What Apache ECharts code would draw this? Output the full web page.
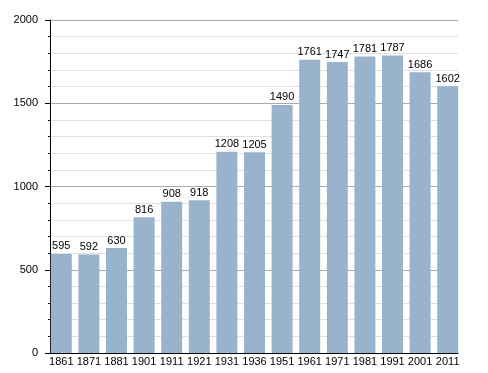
<!DOCTYPE html>
<html><head><meta charset="utf-8">
<script src="https://cdn.jsdelivr.net/npm/echarts@6/dist/echarts.min.js"></script>
<style>html,body{margin:0;padding:0;background:#fff}#c{width:488px;height:373px}</style>
</head><body><div id="c"></div>
<script>
const categories = ["1861","1871","1881","1901","1911","1921","1931","1936","1951","1961","1971","1981","1991","2001","2011"];
const population = [595,592,630,816,908,918,1208,1205,1490,1761,1747,1781,1787,1686,1602];
const yTicks = [0,500,1000,1500,2000];
const FONT = 'Liberation Sans, Arial, sans-serif';

const chart = echarts.init(document.getElementById('c'), null, {renderer:'canvas'});
chart.setOption({
  animation:false,
  grid:[
    {left:50,width:408,top:20,bottom:20},
    {left:47.5,width:414,top:20,bottom:20}
  ],
  xAxis:[
    {type:'category',gridIndex:0,data:categories,
      axisLine:{lineStyle:{color:'#000',width:1}},
      axisTick:{show:false},axisLabel:{show:false},splitLine:{show:false}},
    {type:'category',gridIndex:1,data:categories,
      axisLine:{show:false},axisTick:{show:false},
      axisLabel:{interval:0,color:'#000',fontSize:11,fontFamily:FONT,margin:3}}
  ],
  yAxis:[
    {type:'value',gridIndex:0,min:yTicks[0],max:yTicks[yTicks.length-1],interval:500,
      axisLine:{show:true,lineStyle:{color:'#000',width:1}},
      axisTick:{show:true,length:5,lineStyle:{color:'#000'}},
      minorTick:{show:true,splitNumber:5,length:2,lineStyle:{color:'#000'}},
      splitLine:{lineStyle:{color:'#aaaaaa',width:1}},
      minorSplitLine:{show:true,lineStyle:{color:'#e0e0e0',width:1}},
      axisLabel:{color:'#000',fontSize:11,fontFamily:FONT,margin:12,
        formatter:function(v){return String(v);}}},
    {type:'value',gridIndex:1,min:yTicks[0],max:yTicks[yTicks.length-1],interval:500,
      show:false,splitLine:{show:false}}
  ],
  series:[{type:'bar',xAxisIndex:1,yAxisIndex:1,data:population,barWidth:21,
    itemStyle:{color:'#99b3cc'},
    label:{show:true,position:'top',color:'#000',fontSize:11,fontFamily:FONT,distance:2}}]
});
</script></body></html>
